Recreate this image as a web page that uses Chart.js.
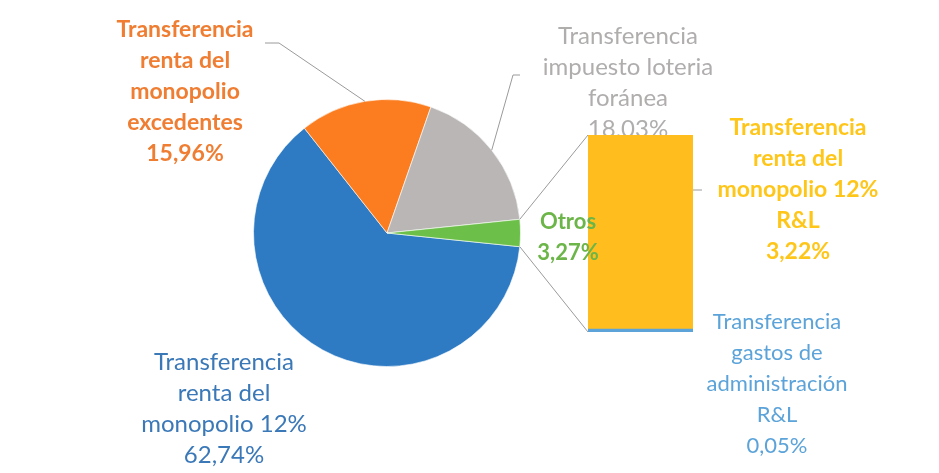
<!DOCTYPE html>
<html>
<head>
<meta charset="utf-8">
<script src="https://cdn.jsdelivr.net/npm/chart.js@4"></script>
<style>
  html, body { margin: 0; padding: 0; background: #fff; }
  #wrap { position: relative; width: 939px; height: 473px; }
  #wrap canvas { position: absolute; left: 0; top: 0; }
</style>
</head>
<body>
<div id="wrap">
  <canvas id="pie" width="939" height="473"></canvas>
  <canvas id="bar" width="939" height="473"></canvas>
</div>
<script>
// pie part
const pieCategories = [
  'Transferencia renta del monopolio 12%',
  'Transferencia renta del monopolio excedentes',
  'Transferencia impuesto loteria foránea',
  'Otros'
];
const pieValues = [62.74, 15.96, 18.03, 3.27];
const pieColors = ['#2e7bc4', '#fb7d1f', '#bab6b6', '#6cc04a'];

// bar part (breakdown of "Otros"), bottom to top
const barCategories = [
  'Transferencia gastos de administración R&L',
  'Transferencia renta del monopolio 12% R&L'
];
const barValues = [0.05, 3.22];
const barColors = ['#5ba3d9', '#ffbe1e'];

// label text lines (the percentage is added from the values)
const pieLabelLines = [
  ['Transferencia', 'renta del', 'monopolio 12%'],
  ['Transferencia', 'renta del', 'monopolio', 'excedentes'],
  ['Transferencia', 'impuesto loteria', 'foránea'],
  ['Otros']
];
const barLabelLines = [
  ['Transferencia', 'gastos de', 'administración', 'R&L'],
  ['Transferencia', 'renta del', 'monopolio 12%', 'R&L']
];

const FONT = 'Lato, "Open Sans", sans-serif';
const pct = v => v.toFixed(2).replace('.', ',') + '%';

// where each label sits (center x, first line y)
const pieLabelPos = [
  { x: 224, y: 362, color: '#3a78b8', bold: false, size: 24 },
  { x: 185, y: 30, color: '#ef7d32', bold: true, size: 23 },
  { x: 628, y: 36, color: '#b0adad', bold: false, size: 24 },
  { x: 568, y: 222, color: '#6cb548', bold: true, size: 22 }
];
const leaders = [null, [265, 43, 279, 43], [520, 75, 513, 75], null];
const barLabelPos = [
  { x: 777, y: 322, color: '#5ba3d9', bold: false, size: 22 },
  { x: 798, y: 128, color: '#ffc61a', bold: true, size: 23 }
];
const lineGap = 31;

const total = pieValues.reduce((a, b) => a + b, 0);
const otrosTotal = barValues.reduce((a, b) => a + b, 0);

function drawLabel(ctx, pos, lines) {
  ctx.save();
  ctx.fillStyle = pos.color;
  ctx.font = (pos.bold ? 'bold ' : '') + pos.size + 'px ' + FONT;
  ctx.textAlign = 'center';
  ctx.textBaseline = 'middle';
  lines.forEach((t, i) => ctx.fillText(t, pos.x, pos.y + i * lineGap));
  ctx.restore();
}

function edgePoint(arc, angle) {
  return { x: arc.x + Math.cos(angle) * arc.outerRadius, y: arc.y + Math.sin(angle) * arc.outerRadius };
}

const pieChart = new Chart(document.getElementById('pie'), {
  type: 'pie',
  data: {
    labels: pieCategories,
    datasets: [{
      data: pieValues,
      backgroundColor: pieColors,
      borderColor: 'rgba(255,255,255,0.6)',
      borderWidth: 1
    }]
  },
  options: {
    responsive: false,
    animation: false,
    rotation: 90 + pieValues[3] / total * 180,
    layout: { padding: { left: 253, right: 418, top: 99, bottom: 106 } },
    plugins: { legend: { display: false }, tooltip: { enabled: false } }
  }
});

const overlay = {
  id: 'overlay',
  beforeDatasetsDraw(chart) {
    const ctx = chart.ctx;
    const arcs = pieChart.getDatasetMeta(0).data;
    const top = chart.getDatasetMeta(1).data[0];
    const bottom = chart.getDatasetMeta(0).data[0];
    const left = top.x - top.width / 2;

    ctx.save();
    ctx.strokeStyle = '#9a9a9a';
    ctx.lineWidth = 1;

    // connectors from "Otros" slice to the bar
    const otros = arcs[3];
    const p1 = edgePoint(otros, otros.startAngle);
    const p2 = edgePoint(otros, otros.endAngle);
    ctx.beginPath();
    ctx.moveTo(p1.x, p1.y); ctx.lineTo(left, top.y);
    ctx.moveTo(p2.x, p2.y); ctx.lineTo(left, bottom.base);
    ctx.stroke();

    // leader lines
    leaders.forEach((l, i) => {
      if (!l) return;
      const a = arcs[i];
      const m = edgePoint(a, (a.startAngle + a.endAngle) / 2);
      ctx.beginPath();
      ctx.moveTo(l[0], l[1]);
      ctx.lineTo(l[2], l[3]);
      ctx.lineTo(m.x, m.y);
      ctx.stroke();
    });
    ctx.restore();

    // gray label sits under the bar
    drawLabel(ctx, pieLabelPos[2], pieLabelLines[2].concat(pct(pieValues[2])));
  },
  afterDatasetsDraw(chart) {
    const ctx = chart.ctx;
    const top = chart.getDatasetMeta(1).data[0];
    const right = top.x + top.width / 2;

    ctx.save();
    ctx.strokeStyle = '#9a9a9a';
    ctx.beginPath();
    ctx.moveTo(right, 190);
    ctx.lineTo(right + 9, 190);
    ctx.stroke();
    ctx.restore();

    [0, 1, 3].forEach(i => drawLabel(ctx, pieLabelPos[i], pieLabelLines[i].concat(pct(pieValues[i]))));
    barLabelPos.forEach((pos, i) => drawLabel(ctx, pos, barLabelLines[i].concat(pct(barValues[i]))));
  }
};

new Chart(document.getElementById('bar'), {
  type: 'bar',
  data: {
    labels: ['Otros'],
    datasets: barValues.map((v, i) => ({
      label: barCategories[i],
      data: [v],
      backgroundColor: barColors[i],
      borderWidth: 0,
      barPercentage: 1,
      categoryPercentage: 1
    }))
  },
  options: {
    responsive: false,
    animation: false,
    layout: { padding: { left: 588, right: 246, top: 135, bottom: 141 } },
    scales: {
      x: { stacked: true, display: false },
      y: { stacked: true, display: false, min: 0, max: otrosTotal }
    },
    plugins: { legend: { display: false }, tooltip: { enabled: false } }
  },
  plugins: [overlay]
});
</script>
</body>
</html>
